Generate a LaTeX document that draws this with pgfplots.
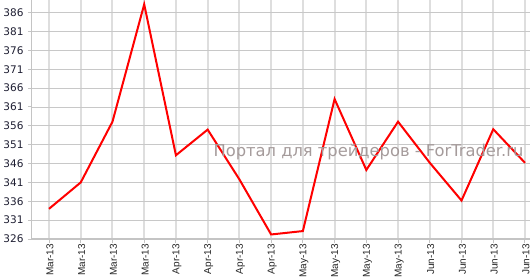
\documentclass[border=0pt]{standalone}
\usepackage{fontspec}
\setmainfont{DejaVu Sans}
\newfontfamily\arialf{Liberation Sans}
\usepackage{pgfplots}
\pgfplotsset{compat=1.18}
\definecolor{vgrid}{RGB}{222,222,222}
\definecolor{hgrid}{RGB}{200,200,200}
\definecolor{axgray}{RGB}{196,196,196}
\definecolor{lblcol}{RGB}{30,30,50}
\definecolor{wmark}{RGB}{165,155,155}
\begin{document}
\begin{tikzpicture}
\useasboundingbox (0,0) rectangle (530bp,280bp);
\begin{axis}[
  at={(32bp,41bp)}, anchor=south west,
  scale only axis, width=498bp, height=239bp,
  xmin=-0.536, xmax=15.158,
  ymin=326, ymax=389.36,
  axis x line=bottom, axis y line=left,
  axis line style={-, draw=axgray},
  x axis line style={line width=2bp},
  y axis line style={line width=1bp},
  xtick={0,...,15},
  xticklabels={Mar-13,Mar-13,Mar-13,Mar-13,Apr-13,Apr-13,Apr-13,Apr-13,May-13,May-13,May-13,May-13,Jun-13,Jun-13,Jun-13,Jun-13},
  ytick={326,331,...,386},
  tick align=outside,
  major tick length=4bp,
  tick style={draw=axgray, line width=1bp},
  xmajorgrids, ymajorgrids,
  x grid style={draw=vgrid, line width=2bp},
  y grid style={draw=hgrid, line width=0.9bp},
  yticklabel style={font=\fontsize{10.5bp}{12bp}\selectfont, text=lblcol, /pgf/number format/assume math mode=true, xshift=-1bp},
  xticklabel style={font=\arialf\fontsize{10bp}{12bp}\selectfont, text=black!85, rotate=90, anchor=east, inner sep=1bp, yshift=-1bp},
  clip=false,
]
\addplot[draw=red, line width=2bp, line join=miter, mark=none] coordinates {
(0,334.0) (1,341.0) (2,357.1) (3,388.2) (4,348.2) (5,355.0) (6,341.8) (7,327.2)
(8,328.1) (9,363.1) (10,344.3) (11,357.1) (12,346.2) (13,336.2) (14,355.1) (15,346.2)
};
\end{axis}
\node[anchor=base, text=wmark, font=\fontsize{16.3bp}{19bp}\selectfont, inner sep=0pt] at (368.5bp,123.3bp) {Портал для трейдеров - ForTrader.ru};
\end{tikzpicture}
\end{document}
